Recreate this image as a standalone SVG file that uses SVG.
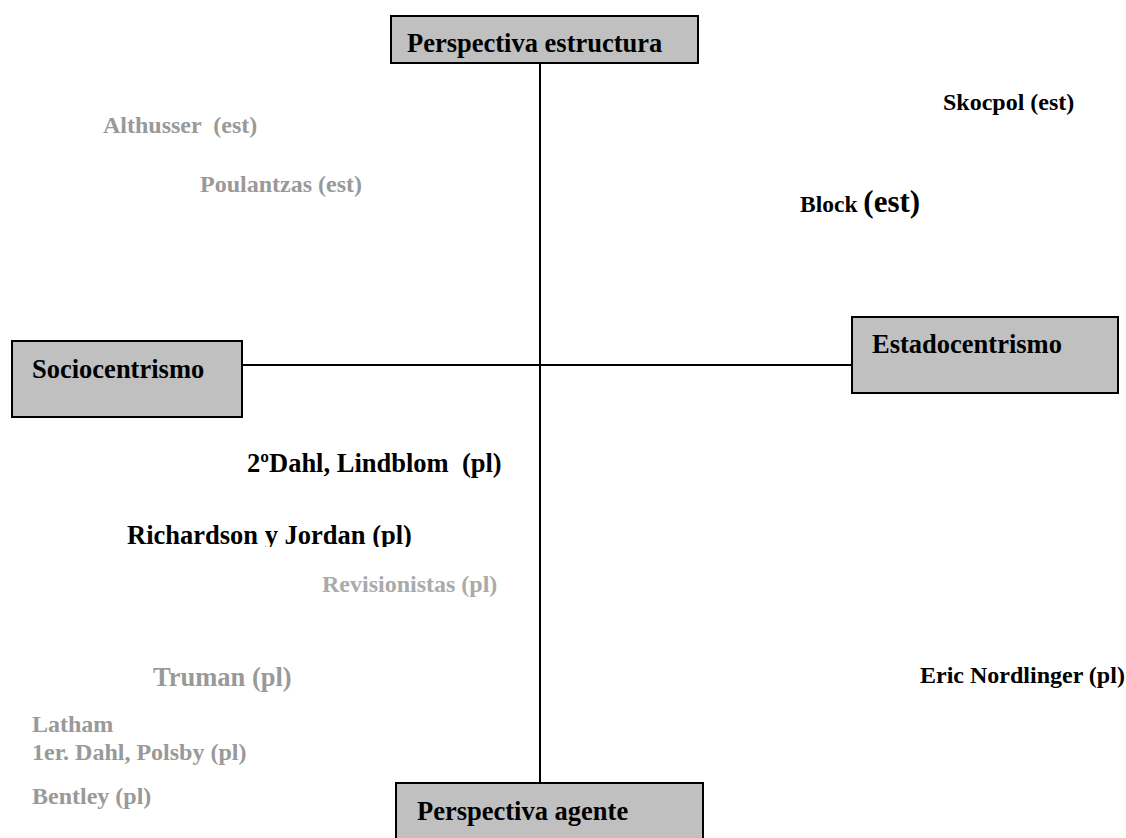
<svg xmlns="http://www.w3.org/2000/svg" width="1126" height="838" viewBox="0 0 1126 838">
  <style>
    .box { fill: #c0c0c0; stroke: #000; stroke-width: 2; }
    .axis { stroke: #000; stroke-width: 2; fill: none; }
    text { font-family: "Liberation Serif", "Times New Roman", serif; font-weight: bold; }
    .head { font-size: 26.5px; fill: #000; }
    .dark { fill: #000; }
    .grey { fill: #999999; }
    .light { fill: #aaaaaa; }
    .s24 { font-size: 24px; }
    .s26 { font-size: 26.5px; }
  </style>
  <defs>
    <clipPath id="clipRichardson">
      <rect x="100" y="500" width="340" height="47"/>
    </clipPath>
  </defs>
  <rect width="1126" height="838" fill="#fff"/>

  <!-- axes -->
  <g id="connectors">
    <line class="axis" x1="540" y1="63" x2="540" y2="783"/>
    <line class="axis" x1="242" y1="365" x2="852" y2="365"/>
  </g>

  <g id="perspectiva-estructura">
    <rect class="box" x="391" y="16" width="307" height="47"/>
    <text class="head" x="407" y="52">Perspectiva estructura</text>
  </g>

  <g id="sociocentrismo">
    <rect class="box" x="12" y="341" width="230" height="76"/>
    <text class="head" x="32" y="378">Sociocentrismo</text>
  </g>

  <g id="estadocentrismo">
    <rect class="box" x="852" y="317" width="266" height="76"/>
    <text class="head" x="872" y="353">Estadocentrismo</text>
  </g>

  <g id="perspectiva-agente">
    <rect class="box" x="396" y="783" width="307" height="70"/>
    <text class="head" x="417" y="820">Perspectiva agente</text>
  </g>

  <!-- authors -->
  <g id="althusser"><text class="grey s24" x="103" y="133" style="white-space:pre">Althusser  (est)</text></g>
  <g id="poulantzas"><text class="grey s24" x="200" y="192">Poulantzas (est)</text></g>
  <g id="skocpol"><text class="dark s24" x="943" y="110">Skocpol (est)</text></g>
  <g id="block"><text class="dark" x="800" y="212"><tspan font-size="23.5">Block </tspan><tspan font-size="31">(est)</tspan></text></g>
  <g id="dahl-lindblom"><text class="dark s26" x="247" y="472" style="white-space:pre">2ºDahl, Lindblom  (pl)</text></g>
  <g id="richardson-jordan"><text class="dark s26" x="127" y="544" clip-path="url(#clipRichardson)">Richardson y Jordan (pl)</text></g>
  <g id="revisionistas"><text class="light s24" x="322" y="592">Revisionistas (pl)</text></g>
  <g id="truman"><text class="grey s26" x="153" y="686">Truman (pl)</text></g>
  <g id="nordlinger"><text class="dark s24" x="920" y="683">Eric Nordlinger (pl)</text></g>
  <g id="latham-dahl-polsby">
    <text class="grey s24" x="32" y="732">Latham</text>
    <text class="grey s24" x="32" y="760">1er. Dahl, Polsby (pl)</text>
  </g>
  <g id="bentley"><text class="grey s24" x="32" y="804">Bentley (pl)</text></g>
</svg>
